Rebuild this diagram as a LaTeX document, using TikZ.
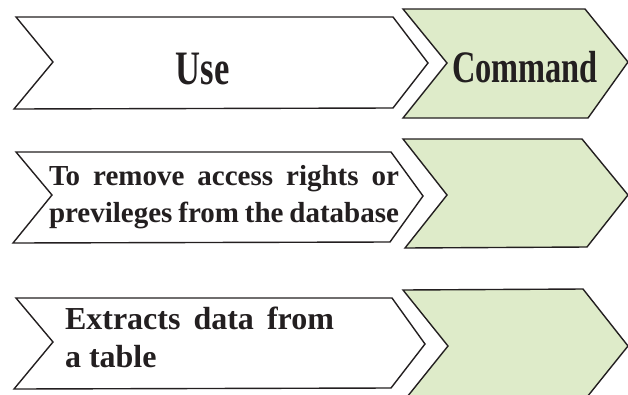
\documentclass[tikz,border=0pt]{standalone}
\usepackage{fontspec}
\setmainfont{Liberation Serif}
\newfontfamily\headf[FakeStretch=0.72]{Liberation Serif}
\definecolor{chevgreen}{HTML}{DEEBC9}
\definecolor{chevline}{HTML}{231F20}
\begin{document}
\begin{tikzpicture}[x=1pt,y=-1pt,
  chevw/.style={draw=chevline,line width=1.4pt,fill=white,line join=miter},
  chevg/.style={draw=chevline,line width=1.4pt,fill=chevgreen,line join=miter},
  txt/.style={inner sep=0pt,outer sep=0pt,text=chevline,font=\bfseries}]
\useasboundingbox (0,0) rectangle (628,394);
\begin{scope}
\clip (0,0) rectangle (628,394);
% row 1
\draw[chevw] (16,17) -- (393,17) -- (428,63) -- (393,108) -- (14,109) -- (53,62) -- cycle;
\draw[chevg] (403,9) -- (585,9) -- (628,62) -- (588,118) -- (403,118) -- (447,63) -- cycle;
% row 2
\draw[chevw] (16,152) -- (391,152) -- (423,196) -- (390,242) -- (13,243) -- (52,195) -- cycle;
\draw[chevg] (403,139) -- (582,139) -- (628,195) -- (587,247) -- (405,248) -- (447,195) -- cycle;
% row 3
\draw[chevw] (16,298) -- (392,298) -- (425,344) -- (391,388) -- (14,389) -- (53,342) -- cycle;
\draw[chevg] (403,290) -- (583,289) -- (628,346) -- (583,402) -- (403,402) -- (448,346) -- cycle;
\end{scope}
% texts
\node[txt,anchor=base] (use) at (202.5,84) {\headf\bfseries\fontsize{48}{48}\selectfont Use};
\node[txt,anchor=base west] (cmd) at (452,82) {\headf\bfseries\fontsize{45}{45}\selectfont Command};
\node[txt,anchor=base west] (r2a) at (49,185) {\fontsize{29}{29}\selectfont\makebox[350pt][s]{To remove access rights or}};
\node[txt,anchor=base west] (r2b) at (49,222) {\fontsize{29}{29}\selectfont\makebox[350pt][s]{previleges from the database}};
\node[txt,anchor=base west] (r3a) at (65,329) {\fontsize{32}{32}\selectfont\makebox[269pt][s]{Extracts data from}};
\node[txt,anchor=base west] (r3b) at (65,367) {\fontsize{32}{32}\selectfont a table};
\end{tikzpicture}
\end{document}
